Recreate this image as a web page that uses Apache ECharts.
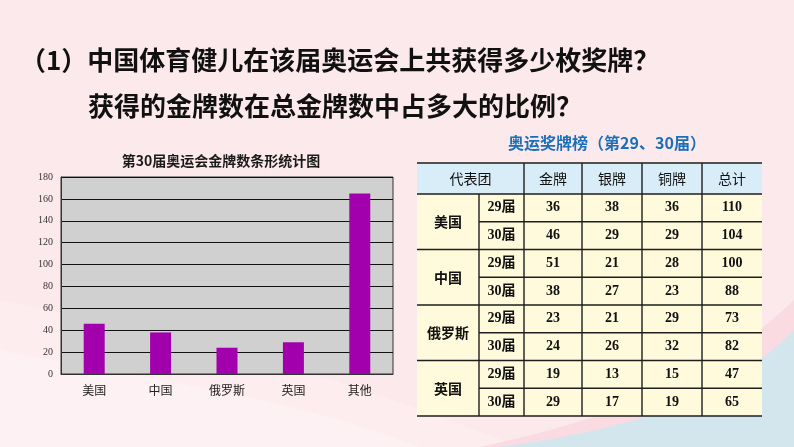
<!DOCTYPE html>
<html><head><meta charset="utf-8">
<script src="https://cdn.jsdelivr.net/npm/echarts@6/dist/echarts.min.js"></script>
<style>html,body{margin:0;padding:0;background:#fce9ec}#c{width:794px;height:447px}</style>
</head><body><div id="c"></div>
<script>
// ---- data ----
const questionLines = ['（1）中国体育健儿在该届奥运会上共获得多少枚奖牌？', '获得的金牌数在总金牌数中占多大的比例？'];
const chartTitle = '第30届奥运会金牌数条形统计图';
const barCategories = ['美国', '中国', '俄罗斯', '英国', '其他'];
const gold30 = [46, 38, 24, 29, 165];
const yMin = 0, yMax = 180, yStep = 20;

const tableTitle = '奥运奖牌榜（第29、30届）';
const tableHeaders = ['代表团', '金牌', '银牌', '铜牌', '总计'];
const delegations = ['美国', '中国', '俄罗斯', '英国'];
const sessions = ['29届', '30届'];
const goldCol = [36, 46, 51, 38, 23, 24, 19, 29];
const silverCol = [38, 29, 21, 27, 21, 26, 13, 17];
const bronzeCol = [36, 29, 28, 23, 29, 32, 15, 19];
const totalCol = [110, 104, 100, 88, 73, 82, 47, 65];

// ---- layout ----
const colX = [417, 479, 524, 582, 642, 702, 762];
const tTop = 163, headH = 31, rowH = 27.75;
const lineCol = '#1e1e1e';
const cjk = '"Noto Sans CJK SC"';
const serif = '"Liberation Serif"';

function bez(p0, p1, p2, p3, extra) {
  const pts = [];
  for (let i = 0; i <= 30; i++) {
    const t = i / 30, u = 1 - t;
    pts.push([
      u*u*u*p0[0] + 3*u*u*t*p1[0] + 3*u*t*t*p2[0] + t*t*t*p3[0],
      u*u*u*p0[1] + 3*u*u*t*p1[1] + 3*u*t*t*p2[1] + t*t*t*p3[1]
    ]);
  }
  return pts.concat(extra);
}

const g = [];
// background waves
g.push({type: 'polygon', z: -5, shape: {points: bez([0,300],[150,330],[300,360],[520,447],[[0,447]])}, style: {fill: '#fdf0f2', opacity: 0.6}});
g.push({type: 'polygon', z: -5, shape: {points: bez([0,350],[160,380],[300,400],[420,447],[[0,447]])}, style: {fill: '#fef4f5', opacity: 0.6}});
g.push({type: 'polygon', z: -4, shape: {points: bez([480,447],[600,420],[700,390],[794,300],[[794,447]])}, style: {fill: '#f9dbe1'}});
g.push({type: 'polygon', z: -3, shape: {points: bez([500,447],[620,430],[720,405],[794,330],[[794,447]])}, style: {fill: '#d3e6ee'}});

// question text
g.push({type: 'text', x: 20, y: 60, style: {text: questionLines[0], font: 'bold 26px ' + cjk, fill: '#111', verticalAlign: 'middle'}});
g.push({type: 'text', x: 88, y: 106, style: {text: questionLines[1], font: 'bold 26px ' + cjk, fill: '#111', verticalAlign: 'middle'}});
// table title
g.push({type: 'text', x: 607, y: 143, style: {text: tableTitle, font: 'bold 16px ' + cjk, fill: '#1a6fb8', align: 'center', verticalAlign: 'middle'}});

// table backgrounds
const nRows = goldCol.length;
const tBottom = tTop + headH + rowH * nRows;
g.push({type: 'rect', shape: {x: colX[0], y: tTop, width: colX[6] - colX[0], height: headH}, style: {fill: '#d8edf8'}});
g.push({type: 'rect', shape: {x: colX[0], y: tTop + headH, width: colX[6] - colX[0], height: rowH * nRows}, style: {fill: '#fffadb'}});

function hline(x1, x2, y) { g.push({type: 'line', shape: {x1: x1, y1: y, x2: x2, y2: y}, style: {stroke: lineCol, lineWidth: 1.6}}); }
function vline(x, y1, y2) { g.push({type: 'line', shape: {x1: x, y1: y1, x2: x, y2: y2}, style: {stroke: lineCol, lineWidth: 1.4}}); }
function txt(s, x, y, font) { g.push({type: 'text', x: x, y: y, style: {text: String(s), font: font, fill: '#111', align: 'center', verticalAlign: 'middle'}}); }

hline(colX[0], colX[6], tTop);
hline(colX[0], colX[6], tTop + headH);
for (let r = 1; r <= nRows; r++) {
  const y = tTop + headH + rowH * r;
  if (r % 2 === 0) hline(colX[0], colX[6], y); else hline(colX[1], colX[6], y);
}
vline(colX[1], tTop + headH, tBottom);
for (let c = 2; c <= 5; c++) vline(colX[c], tTop, tBottom);

// header text
const hy = tTop + headH / 2;
txt(tableHeaders[0], (colX[0] + colX[2]) / 2, hy, '14px ' + cjk);
for (let c = 1; c < tableHeaders.length; c++) txt(tableHeaders[c], (colX[c + 1] + colX[c + 2]) / 2, hy, '14px ' + cjk);

// body
const cols = [goldCol, silverCol, bronzeCol, totalCol];
delegations.forEach((d, i) => {
  const y0 = tTop + headH + rowH * 2 * i;
  txt(d, (colX[0] + colX[1]) / 2, y0 + rowH, 'bold 14px ' + cjk);
  sessions.forEach((s, j) => {
    const r = i * 2 + j;
    const yc = y0 + rowH * j + rowH / 2;
    txt(s, (colX[1] + colX[2]) / 2, yc, 'bold 14px ' + serif + ',' + cjk);
    cols.forEach((arr, k) => txt(arr[r], (colX[k + 2] + colX[k + 3]) / 2, yc, 'bold 14px ' + serif));
  });
});

const chart = echarts.init(document.getElementById('c'));
chart.setOption({
  backgroundColor: '#fce9ec',
  animation: false,
  title: {
    text: chartTitle, left: 216, top: 149, textAlign: 'center',
    textStyle: {fontSize: 14, fontWeight: 'bold', color: '#1a1a1a', fontFamily: cjk}
  },
  grid: {left: 61, right: 401, top: 177, bottom: 73, show: true, backgroundColor: '#d0d0d0', borderColor: '#333', borderWidth: 1},
  xAxis: {
    type: 'category', data: barCategories,
    axisLine: {lineStyle: {color: '#333', width: 1}},
    axisTick: {show: false},
    axisLabel: {margin: 10, fontSize: 12, color: '#222', fontFamily: cjk}
  },
  yAxis: {
    type: 'value', min: yMin, max: yMax, interval: yStep,
    axisLine: {show: true, lineStyle: {color: '#333'}},
    axisTick: {show: false},
    axisLabel: {margin: 8, fontSize: 10, color: '#333', fontFamily: serif},
    splitLine: {lineStyle: {color: '#111', width: 1}}
  },
  series: [{
    type: 'bar', data: gold30, barWidth: 21,
    itemStyle: {color: '#a300ad'}
  }],
  graphic: g
});
</script>
</body></html>
